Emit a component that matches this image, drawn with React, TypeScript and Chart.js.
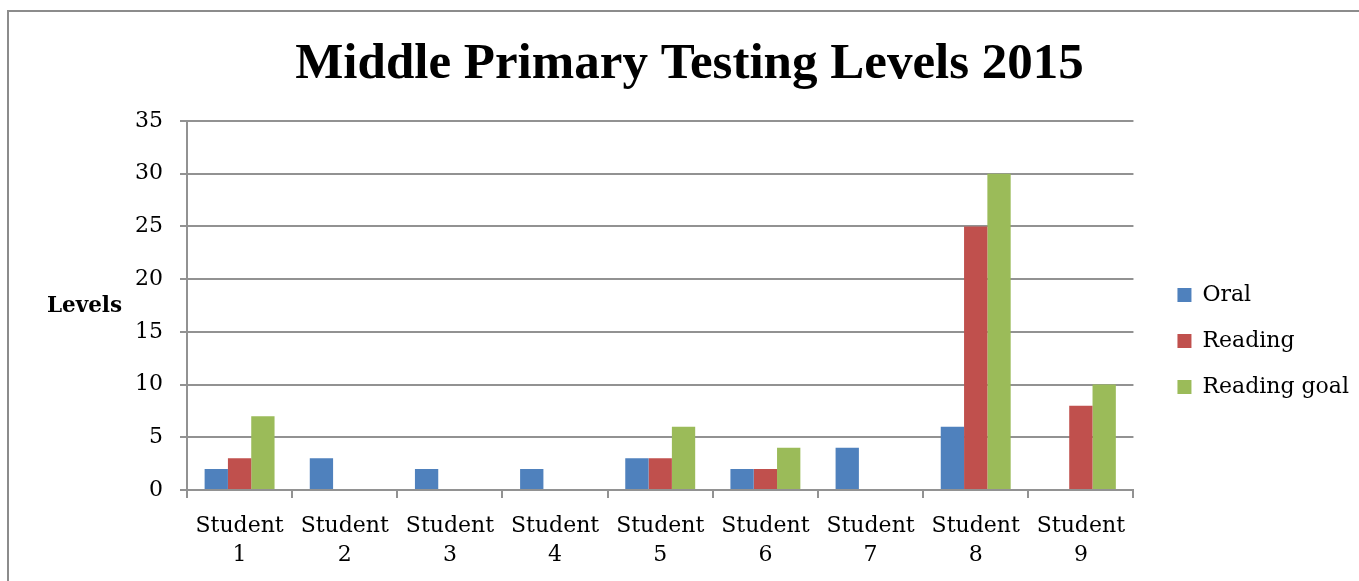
import React, { useEffect, useRef } from "react";
import { Chart, registerables } from "chart.js";

Chart.register(...registerables);

const categories: string[][] = [
  ["Student", "1"], ["Student", "2"], ["Student", "3"], ["Student", "4"], ["Student", "5"],
  ["Student", "6"], ["Student", "7"], ["Student", "8"], ["Student", "9"],
];
const oral: (number | null)[] = [2, 3, 2, 2, 3, 2, 4, 6, null];
const reading: (number | null)[] = [3, null, null, null, 3, 2, null, 25, 8];
const readingGoal: (number | null)[] = [7, null, null, null, 6, 4, null, 30, 10];
const seriesNames = ["Oral", "Reading", "Reading goal"];
const yMin = 0;
const yMax = 35;
const yStep = 5;

const SERIF = '"DejaVu Serif", serif';
const GRID = "#929292";

const levelsLabel = {
  id: "levelsLabel",
  afterDraw(chart: any) {
    const { ctx, chartArea } = chart;
    ctx.save();
    ctx.font = `bold 21.5px ${SERIF}`;
    ctx.fillStyle = "#000";
    ctx.textAlign = "center";
    ctx.textBaseline = "middle";
    ctx.fillText("Levels", 84.5, (chartArea.top + chartArea.bottom) / 2 + 1);
    ctx.restore();
  },
};

export default function App() {
  const ref = useRef<HTMLCanvasElement | null>(null);
  useEffect(() => {
    if (!ref.current) return;
    const chart = new Chart(ref.current, {
      type: "bar",
      data: {
        labels: categories,
        datasets: [
          { label: seriesNames[0], data: oral, backgroundColor: "#4F81BD" },
          { label: seriesNames[1], data: reading, backgroundColor: "#C0504D" },
          { label: seriesNames[2], data: readingGoal, backgroundColor: "#9BBB59" },
        ],
      },
      options: {
        responsive: false,
        animation: false,
        layout: { padding: { left: 20, right: 0, top: 0, bottom: 0 } },
        datasets: { bar: { categoryPercentage: 0.665, barPercentage: 1 } },
        plugins: {
          title: {
            display: true,
            text: "Middle Primary Testing Levels 2015",
            color: "#000",
            font: { family: '"Liberation Serif", serif', size: 51, weight: "bold", lineHeight: 1.2 },
            padding: { top: 34, bottom: 25.8 },
          },
          legend: {
            position: "right",
            fullSize: false,
            align: "center",
            title: { display: true, text: " ", padding: { top: 47, bottom: 0 }, font: { size: 20, lineHeight: 1.2 } },
            labels: {
              color: "#000",
              font: { family: SERIF, size: 22 },
              boxWidth: 14,
              boxHeight: 14,
              padding: 24,
            },
          },
          tooltip: { enabled: false },
        },
        scales: {
          x: {
            grid: { offset: true, drawOnChartArea: false, drawTicks: true, tickLength: 8, color: GRID, lineWidth: 2 },
            border: { display: true, color: GRID, width: 2 },
            ticks: { color: "#000", font: { family: SERIF, size: 22, lineHeight: 1.35 }, padding: 13, maxRotation: 0, autoSkip: false },
            afterFit: (s: any) => { s.height = 91; },
          },
          y: {
            min: yMin,
            max: yMax,
            ticks: { stepSize: yStep, color: "#000", font: { family: SERIF, size: 22 }, padding: 17 },
            grid: { color: GRID, lineWidth: 2, drawTicks: true, tickLength: 7 },
            border: { display: true, color: GRID, width: 2 },
            afterFit: (s: any) => { s.width = 167; },
          },
          spacer: {
            type: "linear",
            position: "right",
            display: true,
            ticks: { display: false },
            grid: { display: false },
            border: { display: false },
            afterFit: (s: any) => { s.width = 20; },
          },
        },
      } as any,
      plugins: [levelsLabel],
    });
    return () => chart.destroy();
  }, []);

  return (
    <>
      <div
        style={{
          position: "fixed",
          left: 7,
          top: 10,
          right: 0,
          bottom: 0,
          borderTop: "2px solid #8c8c8c",
          borderLeft: "2px solid #8c8c8c",
        }}
      />
      <canvas
        ref={ref}
        width={1359}
        height={581}
        style={{ position: "fixed", left: 0, top: 0, width: 1359, height: 581 }}
      />
    </>
  );
}
